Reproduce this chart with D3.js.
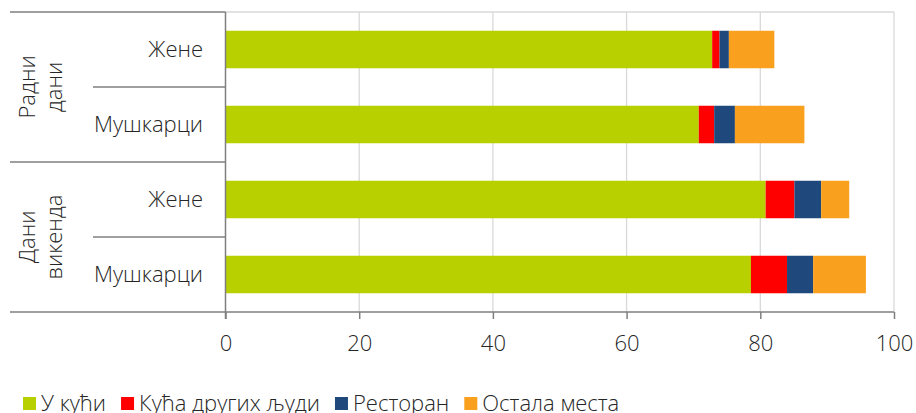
<!DOCTYPE html>
<html>
<head>
<meta charset="utf-8">
<script src="https://cdnjs.cloudflare.com/ajax/libs/d3/7.8.5/d3.min.js"></script>
<style>
  body { margin: 0; background: #fff; }
  text { font-family: "Open Sans", "Noto Sans", sans-serif; font-weight: 300; fill: #262626; }
</style>
</head>
<body>
<div id="chart"></div>
<script>
// values (percent)
const categories = ["Жене", "Мушкарци", "Жене", "Мушкарци"];
const groupLines = [["Радни", "дани"], ["Дани", "викенда"]];
const series = ["У кући", "Кућа других људи", "Ресторан", "Остала места"];
const atHome = [72.8, 70.8, 80.8, 78.6];
const otherHomes = [1.1, 2.3, 4.3, 5.4];
const restaurant = [1.4, 3.1, 4.0, 3.9];
const otherPlaces = [6.8, 10.4, 4.2, 7.9];
const tickValues = [0, 20, 40, 60, 80, 100];
const colors = ["#b8d000", "#ff0000", "#1f497d", "#f9a11f"];

const width = 916;
const height = 413;
const plotLeft = 225.5, plotRight = 894, plotTop = 12, plotBottom = 312;
const fontSize = "22px";

const svg = d3.select("#chart")
              .append("svg")
              .attr("width", width)
              .attr("height", height);

const rows = categories.map((c, i) => ({
  i: i,
  [series[0]]: atHome[i],
  [series[1]]: otherHomes[i],
  [series[2]]: restaurant[i],
  [series[3]]: otherPlaces[i]
}));

const stacked = d3.stack().keys(series)(rows);

const xScale = d3.scaleLinear()
                 .domain([0, 100])
                 .range([plotLeft, plotRight]);

const yScale = d3.scaleBand()
                 .domain(d3.range(categories.length))
                 .range([plotTop, plotBottom])
                 .paddingInner(0.5)
                 .paddingOuter(0.25);

// gridlines
svg.append("g")
   .selectAll("line")
   .data(tickValues.slice(1))
   .enter()
   .append("line")
   .attr("x1", d => xScale(d))
   .attr("x2", d => xScale(d))
   .attr("y1", plotTop)
   .attr("y2", plotBottom)
   .attr("stroke", "#d9d9d9")
   .attr("stroke-width", 1.3);

svg.append("line")
   .attr("x1", plotLeft).attr("x2", plotRight)
   .attr("y1", plotTop).attr("y2", plotTop)
   .attr("stroke", "#d9d9d9")
   .attr("stroke-width", 1.3);

// bars
svg.append("g")
   .selectAll("g")
   .data(stacked)
   .enter()
   .append("g")
   .attr("fill", (d, i) => colors[i])
   .selectAll("rect")
   .data(d => d)
   .enter()
   .append("rect")
   .attr("x", d => xScale(d[0]))
   .attr("width", d => xScale(d[1]) - xScale(d[0]))
   .attr("y", d => yScale(d.data.i))
   .attr("height", yScale.bandwidth());

// x axis
const x_axis = d3.axisBottom(xScale)
                 .tickValues(tickValues)
                 .tickSize(7)
                 .tickPadding(16)
                 .tickFormat(d3.format("d"));

const xg = svg.append("g")
              .attr("transform", "translate(0," + plotBottom + ")")
              .call(x_axis);
xg.select(".domain").remove();
xg.selectAll("line").attr("stroke", "#7f7f7f").attr("stroke-width", 1.5);
xg.selectAll("text")
  .style("font-family", "\"Open Sans\", sans-serif")
  .style("font-weight", 300)
  .style("font-size", fontSize)
  .attr("fill", "#262626");

svg.append("line")
   .attr("x1", 10).attr("x2", plotRight)
   .attr("y1", plotBottom).attr("y2", plotBottom)
   .attr("stroke", "#7f7f7f")
   .attr("stroke-width", 1.5);

// category axis with group separators
svg.append("line")
   .attr("x1", plotLeft).attr("x2", plotLeft)
   .attr("y1", plotTop).attr("y2", plotBottom + 7)
   .attr("stroke", "#7f7f7f")
   .attr("stroke-width", 1.5);

const step = yScale.step();
[0, 2].forEach(k => {
  svg.append("line")
     .attr("x1", 10).attr("x2", plotLeft)
     .attr("y1", plotTop + k * step).attr("y2", plotTop + k * step)
     .attr("stroke", "#7f7f7f").attr("stroke-width", 1.5);
  svg.append("line")
     .attr("x1", 93).attr("x2", plotLeft)
     .attr("y1", plotTop + (k + 1) * step).attr("y2", plotTop + (k + 1) * step)
     .attr("stroke", "#7f7f7f").attr("stroke-width", 1.5);
});

svg.append("g")
   .selectAll("text")
   .data(categories)
   .enter()
   .append("text")
   .attr("x", 203)
   .attr("y", (d, i) => yScale(i) + yScale.bandwidth() / 2)
   .attr("dy", "0.36em")
   .attr("text-anchor", "end")
   .style("font-size", fontSize)
   .text(d => d);

groupLines.forEach((lines, g) => {
  const cy = plotTop + (g * 2 + 1) * step;
  const t = svg.append("text")
               .attr("transform", "translate(35," + cy + ") rotate(-90)")
               .attr("text-anchor", "middle")
               .style("font-size", fontSize);
  lines.forEach((ln, j) => {
    t.append("tspan").attr("x", 0).attr("dy", j === 0 ? 0 : 27).text(ln);
  });
});

// legend
const legend = svg.append("g").attr("transform", "translate(23,0)");
let lx = 0;
series.forEach((s, i) => {
  legend.append("rect")
        .attr("x", lx).attr("y", 397)
        .attr("width", 13).attr("height", 13)
        .attr("fill", colors[i]);
  const t = legend.append("text")
                  .attr("x", lx + 18).attr("y", 411)
                  .style("font-size", fontSize)
                  .text(s);
  lx += 18 + t.node().getComputedTextLength() + 15;
});
</script>
</body>
</html>
